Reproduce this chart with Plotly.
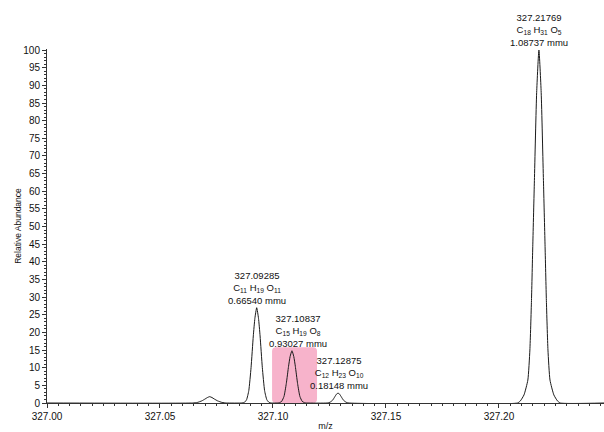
import plotly.graph_objects as go

# ---- data ----
baseline_mz = [327.0000, 327.2465]
baseline_int = [0, 0]

peakA_mz = [327.0645, 327.0665, 327.0685, 327.0700, 327.0710, 327.0720, 327.0730, 327.0740, 327.0755, 327.0775, 327.0795]
peakA_int = [0, 0.15, 0.6, 1.15, 1.55, 1.8, 1.55, 1.15, 0.6, 0.15, 0]

peakB_mz = [327.0863, 327.0873, 327.0883, 327.0893, 327.0903, 327.0913, 327.0920, 327.0928, 327.0936, 327.0943, 327.0953, 327.0963, 327.0973, 327.0983, 327.0993]
peakB_int = [0, 0.15, 0.9, 3.5, 10, 19, 24, 27, 24, 19, 10, 3.5, 0.9, 0.15, 0]

peakC_mz = [327.1019, 327.1029, 327.1039, 327.1049, 327.1059, 327.1069, 327.1076, 327.1084, 327.1092, 327.1099, 327.1109, 327.1119, 327.1129, 327.1139, 327.1149]
peakC_int = [0, 0.1, 0.5, 1.9, 5.5, 10.4, 13.2, 14.8, 13.2, 10.4, 5.5, 1.9, 0.5, 0.1, 0]

peakD_mz = [327.1240, 327.1252, 327.1264, 327.1274, 327.1281, 327.1288, 327.1295, 327.1302, 327.1312, 327.1324, 327.1336]
peakD_int = [0, 0.2, 0.8, 1.8, 2.5, 2.8, 2.5, 1.8, 0.8, 0.2, 0]

peakE_mz = [327.2082, 327.2095, 327.2111, 327.2128, 327.2137, 327.2144, 327.2150, 327.2157, 327.2167, 327.2177,
            327.2187, 327.2197, 327.2204, 327.2210, 327.2217, 327.2226, 327.2243, 327.2259, 327.2272]
peakE_int = [0, 0.6, 2.3, 6.5, 15, 29, 45, 63, 88, 100, 88, 63, 45, 29, 15, 6.5, 2.3, 0.6, 0]

label_mz = [327.09285, 327.10837, 327.12875, 327.21769]
label_height = [27, 14.8, 2.8, 100]
label_formula = ["C<sub>11</sub> H<sub>19</sub> O<sub>11</sub>",
                 "C<sub>15</sub> H<sub>19</sub> O<sub>8</sub>",
                 "C<sub>12</sub> H<sub>23</sub> O<sub>10</sub>",
                 "C<sub>18</sub> H<sub>31</sub> O<sub>5</sub>"]
label_mmu = ["0.66540 mmu", "0.93027 mmu", "0.18148 mmu", "1.08737 mmu"]
label_xshift = [0, 6, 1, 0]

highlight_x = [327.0996, 327.1195]
highlight_y = [0, 15.8]

# ---- build spectrum ----
mz = [baseline_mz[0]] + peakA_mz + peakB_mz + peakC_mz + peakD_mz + peakE_mz + [baseline_mz[1]]
inten = [baseline_int[0]] + peakA_int + peakB_int + peakC_int + peakD_int + peakE_int + [baseline_int[1]]

FONT = "Liberation Sans, Arial, sans-serif"

fig = go.Figure()
fig.add_trace(go.Scatter(x=mz, y=inten, mode="lines",
                         line=dict(color="#1a1a1a", width=1, shape="spline", smoothing=0.5),
                         hoverinfo="skip", showlegend=False))

# rounded pink highlight
x0, x1 = highlight_x
y0, y1 = highlight_y
rx, ry = 0.0018, 1.1
path = (f"M {x0+rx},{y0} L {x1-rx},{y0} Q {x1},{y0} {x1},{y0+ry} "
        f"L {x1},{y1-ry} Q {x1},{y1} {x1-rx},{y1} L {x0+rx},{y1} "
        f"Q {x0},{y1} {x0},{y1-ry} L {x0},{y0+ry} Q {x0},{y0} {x0+rx},{y0} Z")
fig.add_shape(type="path", path=path, xref="x", yref="y",
              fillcolor="#f7b3cb", line=dict(width=0), layer="below")

for m, h, f, u, xs in zip(label_mz, label_height, label_formula, label_mmu, label_xshift):
    fig.add_annotation(x=m, y=h, xref="x", yref="y",
                       text=f"{m:.5f}<br>{f}<br>{u}",
                       showarrow=False, xanchor="center", yanchor="bottom",
                       xshift=xs, yshift=0,
                       font=dict(family=FONT, size=9.5, color="#111"))

fig.update_layout(
    width=604, height=432,
    margin=dict(l=47, r=0, t=49, b=29),
    paper_bgcolor="white", plot_bgcolor="white",
    font=dict(family=FONT, color="#111"),
    showlegend=False,
    xaxis=dict(range=[327.0, 327.2465], tick0=327.0, dtick=0.05, tickformat=".2f",
               showline=True, linecolor="#333", linewidth=1,
               ticks="outside", ticklen=4, tickcolor="#333", tickwidth=1,
               minor=dict(dtick=0.005, ticks="outside", ticklen=2, tickcolor="#333", showgrid=False),
               showgrid=False, zeroline=False, automargin=False,
               tickfont=dict(size=10, family=FONT, color="#111"),
               title=dict(text="m/z", font=dict(size=9, family=FONT), standoff=1)),
    yaxis=dict(range=[0, 100.3], tick0=0, dtick=5,
               showline=True, linecolor="#333", linewidth=1,
               ticks="outside", ticklen=4, tickcolor="#333", tickwidth=1,
               minor=dict(dtick=1, ticks="outside", ticklen=2, tickcolor="#333", showgrid=False),
               showgrid=False, zeroline=False, automargin=False,
               tickfont=dict(size=10, family=FONT, color="#111"),
               title=dict(text="Relative Abundance", font=dict(size=8.5, family=FONT), standoff=0)),
)

fig.write_html("out.html")
